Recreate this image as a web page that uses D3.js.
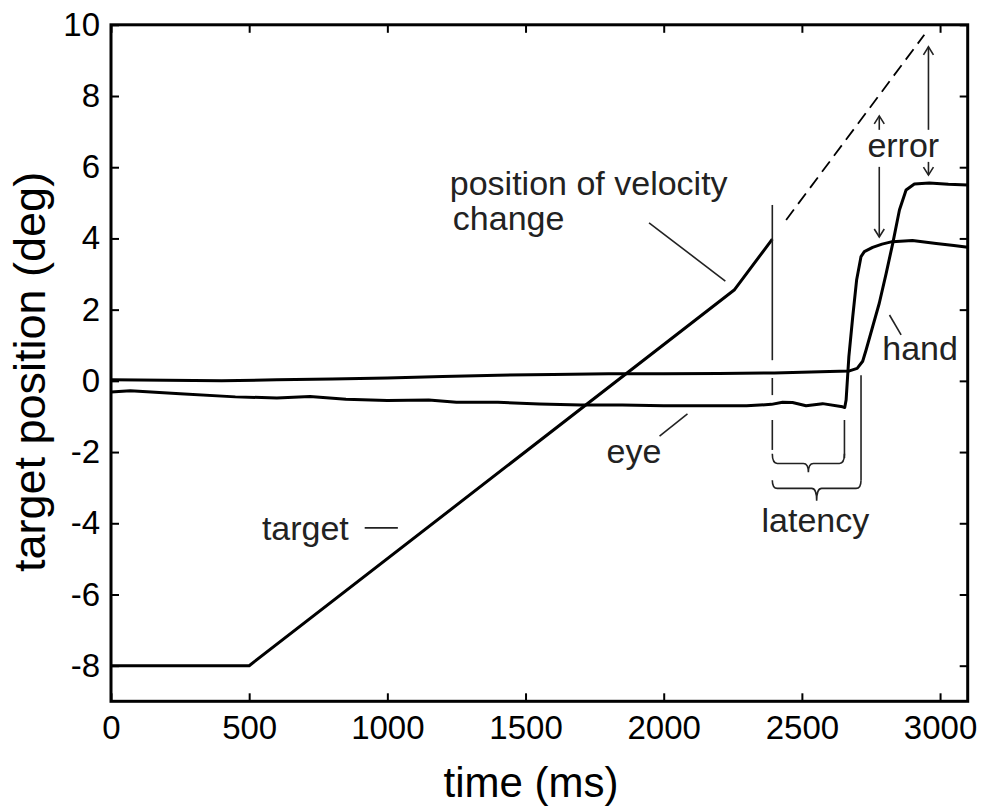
<!DOCTYPE html>
<html><head><meta charset="utf-8">
<script src="https://cdn.jsdelivr.net/npm/d3@7"></script>
<style>
html,body{margin:0;padding:0;background:#fff;}
svg{display:block;font-family:"Liberation Sans",Arial,Helvetica,sans-serif;}
</style></head>
<body><svg id="chart" width="990" height="807"></svg>
<script>
// ---- data ----
const xTicks = [0, 500, 1000, 1500, 2000, 2500, 3000];
const yTicks = [-8, -6, -4, -2, 0, 2, 4, 6, 8, 10];
const xDomain = [0, 3100];
const yDomain = [-9, 10];

const targetTime = [0, 500, 2255, 2393];
const targetPos  = [-8, -8, 2.55, 3.98];
const extrapTime = [2443, 2943];
const extrapPos  = [4.52, 9.72];

const eyeTime = [0, 70, 250, 450, 600, 720, 850, 1000, 1150, 1250, 1400, 1550, 1700, 1850, 2000, 2150, 2300, 2390, 2430, 2466, 2515, 2575, 2647, 2655, 2660, 2670, 2684, 2698, 2714, 2726, 2756, 2790, 2827, 2900, 2986, 3050, 3100];
const eyePos  = [-0.31, -0.28, -0.36, -0.45, -0.48, -0.44, -0.52, -0.55, -0.54, -0.60, -0.60, -0.65, -0.68, -0.68, -0.70, -0.70, -0.70, -0.66, -0.60, -0.61, -0.70, -0.64, -0.73, -0.75, -0.54, 0.68, 1.80, 2.83, 3.49, 3.63, 3.75, 3.84, 3.91, 3.94, 3.86, 3.80, 3.75];

const handTime = [0, 200, 400, 600, 800, 1000, 1200, 1400, 1600, 1800, 2000, 2200, 2400, 2500, 2600, 2672, 2700, 2720, 2732, 2756, 2780, 2805, 2829, 2853, 2877, 2907, 2961, 3030, 3100];
const handPos  = [0.03, 0.02, 0.00, 0.03, 0.05, 0.08, 0.12, 0.16, 0.18, 0.20, 0.20, 0.21, 0.22, 0.24, 0.26, 0.28, 0.35, 0.55, 0.86, 1.52, 2.18, 3.02, 3.87, 4.80, 5.36, 5.53, 5.56, 5.52, 5.50];

// annotation anchors (data units)
const velChangeTime = 2393;
const velLineSegs = [[4.94, 0.58], [0.08, -0.40], [-1.10, -1.94]];
const eyeOnsetTime = 2654;
const eyeOnsetSeg = [-1.10, -2.17];
const handOnsetTime = 2714;
const handOnsetSeg = [0.16, -2.79];

// ---- setup ----
const svg = d3.select("#chart");
const x = d3.scaleLinear().domain(xDomain).range([111, 967.7]);
const y = d3.scaleLinear().domain(yDomain).range([701.3, 24.8]);
const ink = "#000", annot = "#222";
const fmt = d => String(d);

// axes (ticks inside on all four sides)
const tl = 8;
svg.append("g").attr("transform", `translate(0,${y(yDomain[0])})`)
  .call(d3.axisBottom(x).tickValues(xTicks).tickSize(-tl).tickPadding(14).tickFormat(fmt))
  .call(g => { g.select(".domain").remove(); g.selectAll("line").attr("stroke", ink).attr("stroke-width", 2);
    g.selectAll("text").attr("font-size", 33).attr("fill", ink).attr("font-family", "Liberation Sans, Arial, sans-serif"); });
svg.append("g").attr("transform", `translate(0,${y(yDomain[1])})`)
  .call(d3.axisTop(x).tickValues(xTicks).tickSize(-tl).tickFormat(""))
  .call(g => { g.select(".domain").remove(); g.selectAll("line").attr("stroke", ink).attr("stroke-width", 2); });
svg.append("g").attr("transform", `translate(${x(xDomain[0])},0)`)
  .call(d3.axisLeft(y).tickValues(yTicks).tickSize(-tl).tickPadding(11).tickFormat(fmt))
  .call(g => { g.select(".domain").remove(); g.selectAll("line").attr("stroke", ink).attr("stroke-width", 2);
    g.selectAll("text").attr("font-size", 33).attr("fill", ink).attr("font-family", "Liberation Sans, Arial, sans-serif"); });
svg.append("g").attr("transform", `translate(${x(xDomain[1])},0)`)
  .call(d3.axisRight(y).tickValues(yTicks).tickSize(-tl).tickFormat(""))
  .call(g => { g.select(".domain").remove(); g.selectAll("line").attr("stroke", ink).attr("stroke-width", 2); });

svg.append("rect").attr("x", x(xDomain[0])).attr("y", y(yDomain[1]))
  .attr("width", x(xDomain[1]) - x(xDomain[0])).attr("height", y(yDomain[0]) - y(yDomain[1]))
  .attr("fill", "none").attr("stroke", ink).attr("stroke-width", 3);

// axis titles
svg.append("text").attr("x", 531).attr("y", 797)
  .attr("text-anchor", "middle").attr("font-size", 42).attr("fill", ink).text("time (ms)");
svg.append("text").attr("transform", `translate(45,372) rotate(-90)`)
  .attr("text-anchor", "middle").attr("font-size", 45).attr("fill", ink).text("target position (deg)");

// data lines
const line = d3.line().x(d => x(d[0])).y(d => y(d[1]));
const zip = (a, b) => a.map((v, i) => [v, b[i]]);
const plot = svg.append("g");
plot.append("path").datum(zip(targetTime, targetPos)).attr("d", line)
  .attr("fill", "none").attr("stroke", ink).attr("stroke-width", 3).attr("stroke-linejoin", "round");
plot.append("path").datum(zip(extrapTime, extrapPos)).attr("d", line)
  .attr("fill", "none").attr("stroke", ink).attr("stroke-width", 1.8).attr("stroke-dasharray", "13,7");
plot.append("path").datum(zip(eyeTime, eyePos)).attr("d", line)
  .attr("fill", "none").attr("stroke", ink).attr("stroke-width", 3).attr("stroke-linejoin", "round");
plot.append("path").datum(zip(handTime, handPos)).attr("d", line)
  .attr("fill", "none").attr("stroke", ink).attr("stroke-width", 3).attr("stroke-linejoin", "round");

// annotations
const ann = svg.append("g").attr("stroke", annot).attr("stroke-width", 1.6).attr("fill", "none");
velLineSegs.forEach(s => ann.append("line").attr("x1", x(velChangeTime)).attr("x2", x(velChangeTime))
  .attr("y1", y(s[0])).attr("y2", y(s[1])));
ann.append("line").attr("x1", x(eyeOnsetTime)).attr("x2", x(eyeOnsetTime)).attr("y1", y(eyeOnsetSeg[0])).attr("y2", y(eyeOnsetSeg[1]));
ann.append("line").attr("x1", x(handOnsetTime)).attr("x2", x(handOnsetTime)).attr("y1", y(handOnsetSeg[0])).attr("y2", y(handOnsetSeg[1]));

function brace(t1, t2, vTop, vH, vTip) {
  const x1 = x(t1), x2 = x(t2), xm = (x1 + x2) / 2, yt = y(vTop), yh = y(vH), yp = y(vTip), r = 5;
  return `M${x1},${yt} Q${x1},${yh} ${x1 + r},${yh} L${xm - r},${yh} Q${xm},${yh} ${xm},${yp} Q${xm},${yh} ${xm + r},${yh} L${x2 - r},${yh} Q${x2},${yh} ${x2},${yt}`;
}
ann.append("path").attr("d", brace(velChangeTime, eyeOnsetTime, -2.05, -2.32, -2.57));
ann.append("path").attr("d", brace(velChangeTime, handOnsetTime, -2.79, -3.02, -3.37));

function arrow(t, v1, v2) {
  const X = x(t), Y1 = y(v1), Y2 = y(v2), dir = Y2 < Y1 ? 1 : -1;
  ann.append("line").attr("x1", X).attr("x2", X).attr("y1", Y1).attr("y2", Y2);
  ann.append("path").attr("d", `M${X - 5},${Y2 + dir * 8} L${X},${Y2} L${X + 5},${Y2 + dir * 8}`);
}
arrow(2780, 7.05, 7.44);
arrow(2780, 6.01, 4.04);
arrow(2958, 7.05, 9.38);
arrow(2958, 6.15, 5.78);

const ptr = (t1, v1, t2, v2) => ann.append("line").attr("x1", x(t1)).attr("y1", y(v1)).attr("x2", x(t2)).attr("y2", y(v2));
ptr(1947, 4.44, 2223, 2.80);
ptr(2817, 1.85, 2859, 1.29);
ptr(1985, -1.55, 2086, -0.93);
ptr(918, -4.13, 1038, -4.13);

const lab = (t, v, s) => svg.append("text").attr("x", x(t)).attr("y", y(v)).attr("font-size", 34).attr("fill", annot).text(s);
lab(1226, 5.22, "position of velocity");
lab(1237, 4.25, "change");
lab(2737, 6.30, "error");
lab(2791, 0.59, "hand");
lab(1793, -2.31, "eye");
lab(546, -4.47, "target");
lab(2354, -4.24, "latency");
</script></body></html>
